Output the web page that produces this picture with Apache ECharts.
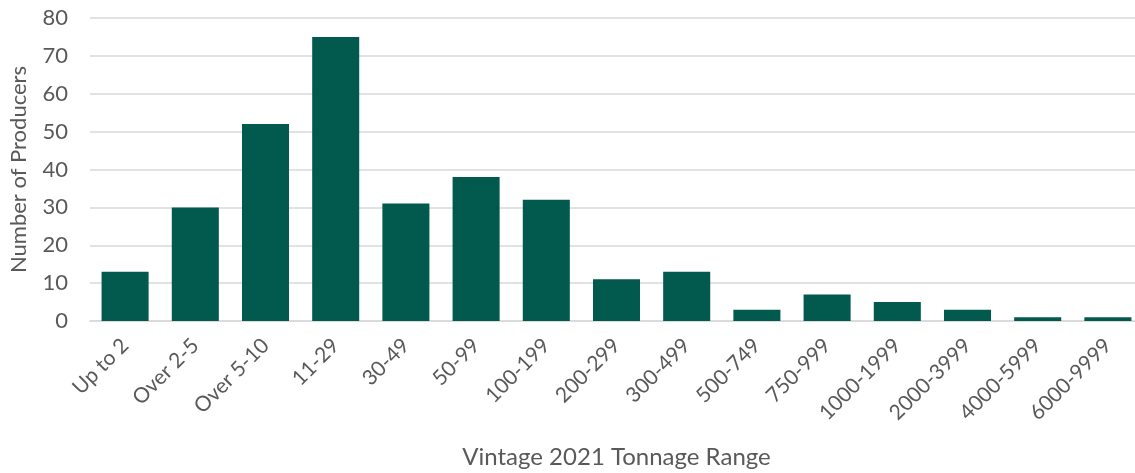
<!DOCTYPE html>
<html>
<head>
<meta charset="utf-8">
<script src="https://cdn.jsdelivr.net/npm/echarts@6/dist/echarts.min.js"></script>
<style>
html,body{margin:0;padding:0;background:#fff;}
#chart{width:1135px;height:473px;}
</style>
</head>
<body>
<div id="chart"></div>
<script>
const categories = ["Up to 2","Over 2-5","Over 5-10","11-29","30-49","50-99","100-199","200-299","300-499","500-749","750-999","1000-1999","2000-3999","4000-5999","6000-9999"];
const producers = [13,30,52,75,31,38,32,11,13,3,7,5,3,1,1];
const yTicks = {min:0,max:80,interval:10};
const xTitle = "Vintage 2021 Tonnage Range";
const yTitle = "Number of Producers";

const chart = echarts.init(document.getElementById('chart'), null, {renderer:'canvas'});
const font = 'Lato, "Open Sans", sans-serif';
chart.setOption({
  animation:false,
  backgroundColor:'#ffffff',
  grid:{left:90, top:18, width:1053, height:303, containLabel:false, outerBoundsMode:'none'},
  xAxis:{
    type:'category',
    data:categories,
    axisLine:{show:true, lineStyle:{color:'#d9d9d9', width:1.5}},
    axisTick:{show:false},
    axisLabel:{rotate:45, color:'#595959', fontSize:21, fontFamily:font, margin:21, interval:0},
    name:xTitle,
    nameLocation:'middle',
    nameGap:124,
    nameTextStyle:{color:'#595959', fontSize:24, fontFamily:font}
  },
  yAxis:{
    type:'value',
    min:yTicks.min, max:yTicks.max, interval:yTicks.interval,
    axisLine:{show:false},
    axisTick:{show:false},
    splitLine:{lineStyle:{color:'#d9d9d9', width:1.5}},
    axisLabel:{color:'#595959', fontSize:22, fontFamily:font, margin:22},
    name:yTitle,
    nameLocation:'middle',
    nameGap:60,
    nameTextStyle:{color:'#595959', fontSize:22, fontFamily:font}
  },
  series:[{
    type:'bar',
    data:producers,
    barCategoryGap:'33%',
    itemStyle:{color:'#02594d'}
  }]
});
</script>
</body>
</html>
